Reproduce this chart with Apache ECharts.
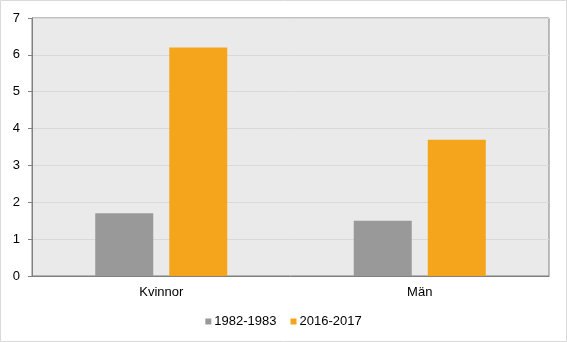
<!DOCTYPE html>
<html><head><meta charset="utf-8">
<script src="https://cdn.jsdelivr.net/npm/echarts@6/dist/echarts.min.js"></script>
<style>html,body{margin:0;padding:0;background:#fff}#c{width:567px;height:342px}</style>
</head><body><div id="c"></div>
<script>
const categories = ['Kvinnor', 'Män'];
const seriesNames = ['1982-1983', '2016-2017'];
const values1982 = [1.7, 1.5];
const values2016 = [6.2, 3.7];
const yTicks = [0, 1, 2, 3, 4, 5, 6, 7];

const chart = echarts.init(document.getElementById('c'), null, {renderer: 'canvas'});
const font = 'Arial, "Liberation Sans", sans-serif';
chart.setOption({
  animation: false,
  backgroundColor: '#ffffff',
  graphic: [{type: 'rect', shape: {x: 0.5, y: 0.5, width: 566, height: 341}, style: {fill: 'none', stroke: '#D9D9D9', lineWidth: 1}, silent: true}],
  grid: {left: 32, right: 18, top: 18, bottom: 66, show: true, backgroundColor: '#EAEAEA', borderColor: '#808080', borderWidth: 1},
  legend: {
    data: seriesNames, top: 310, left: 'center', icon: 'rect', itemWidth: 6, itemHeight: 6, itemGap: 14,
    textStyle: {fontFamily: font, fontSize: 13, color: '#000', padding: [0, 0, 0, -2]}
  },
  xAxis: {
    type: 'category', data: categories,
    axisLine: {lineStyle: {color: '#808080'}}, axisTick: {show: false},
    axisLabel: {fontFamily: font, fontSize: 13, color: '#000', margin: 10}
  },
  yAxis: {
    type: 'value', min: yTicks[0], max: yTicks[yTicks.length - 1], interval: 1,
    axisLine: {show: true, lineStyle: {color: '#808080'}},
    axisTick: {show: true, length: 4, lineStyle: {color: '#808080'}},
    axisLabel: {fontFamily: font, fontSize: 13, color: '#000', margin: 12},
    splitLine: {lineStyle: {color: '#D9D9D9'}}
  },
  series: [
    {name: seriesNames[0], type: 'bar', data: values1982, barWidth: 58, barGap: '27.6%', itemStyle: {color: '#999999'}},
    {name: seriesNames[1], type: 'bar', data: values2016, barWidth: 58, itemStyle: {color: '#F5A51C'}}
  ]
});
</script></body></html>
